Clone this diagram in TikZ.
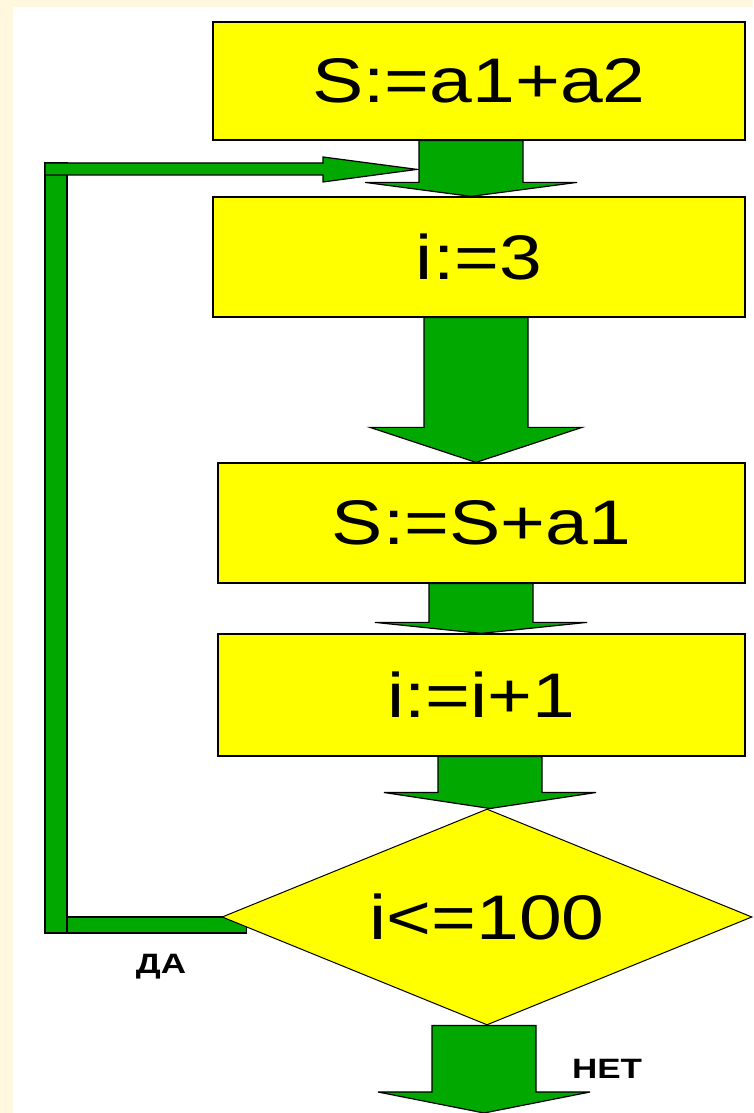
\documentclass[tikz,border=0pt]{standalone}
\usepackage{graphicx}
\usepackage{fontspec}
\setmainfont{Liberation Sans}
\usetikzlibrary{shapes.geometric,calc,backgrounds}
\definecolor{flowgreen}{RGB}{0,168,0}
\definecolor{slidecream}{RGB}{255,247,222}
\definecolor{boxyellow}{RGB}{255,255,0}
\newcommand{\bigtext}[1]{\fontsize{63}{70}\selectfont\scalebox{1.22}[1]{#1}}
\newcommand{\smalltext}[1]{\fontsize{28}{30}\selectfont\bfseries\scalebox{1.25}[1]{#1}}
\tikzset{
  opbox/.style={draw=black,line width=1.2pt,fill=boxyellow,inner sep=0pt},
  decision/.style={diamond,draw=black,line width=1pt,fill=boxyellow,inner sep=0pt,
    shape aspect=2.45,minimum width=530pt,minimum height=216pt},
  fatgreen/.style={fill=flowgreen,draw=black,line width=1.2pt,line join=miter},
  answer/.style={inner sep=0pt}
}
\newcommand{\fatarrow}[4]{%
  \draw[fatgreen] let \p1=(#1), \p2=(#2) in
    (#3-52,\y1) -- (#3+52,\y1) -- (#3+52,\y2+#4) -- (#3+106,\y2+#4)
    -- (#3,\y2) -- (#3-106,\y2+#4) -- (#3-52,\y2+#4) -- cycle;}

\begin{document}
\begin{tikzpicture}[x=1pt,y=1pt]
\useasboundingbox (0,0) rectangle (753,1113);

\node[opbox,minimum width=532pt,minimum height=118pt] (b1) at (479,1032) {\bigtext{S:=a1+a2}};
\node[opbox,minimum width=532pt,minimum height=120pt] (b2) at (479,856) {\bigtext{i:=3}};
\node[opbox,minimum width=527pt,minimum height=120pt] (b3) at (481.5,590) {\bigtext{S:=S+a1}};
\node[opbox,minimum width=527pt,minimum height=122pt] (b4) at (481.5,418) {\bigtext{i:=i+1}};
\node[decision] (d) at (487,196) {\bigtext{i<=100}};

\coordinate (out) at (484,0);
\coordinate (looptip) at ($(b2.north)+(-62,27)$);

\foreach \from/\to/\ax/\hl in {b1/b2/471/14, b2/b3/476/35, b3/b4/481/11, b4/d/490/16} {
  \fatarrow{\from.south}{\to.north}{\ax}{\hl}
}
\fatarrow{d.south}{out}{484}{21}

\begin{scope}[on background layer]
\fill[white] (0,0) rectangle (753,1113);
\fill[slidecream] (0,0) rectangle (13,1113);
\fill[slidecream] (0,1106) rectangle (753,1113);
\draw[fatgreen] let \p1=(d.west) in (45,\y1-16) rectangle (67,950);
\draw[fatgreen] let \p1=(d.west) in (67,\y1-16) rectangle (\x1+25,\y1);
\draw[fatgreen] (45,938) -- (323,938) -- (323,931) -- (looptip) -- (323,956) -- (323,950) -- (45,950) -- cycle;
\end{scope}

\node[answer] (yes) at (161,146) {\smalltext{ДА}};
\node[answer] (no) at (607,44) {\smalltext{НЕТ}};
\end{tikzpicture}
\end{document}
